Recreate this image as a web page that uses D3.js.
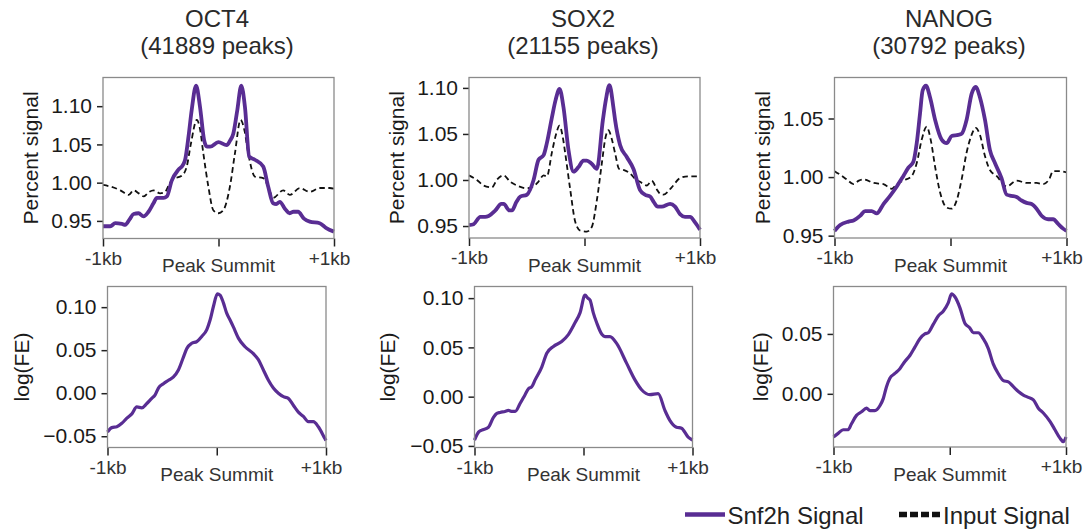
<!DOCTYPE html>
<html>
<head>
<meta charset="utf-8">
<script src="https://cdn.jsdelivr.net/npm/d3@7"></script>
<style>
  html, body { margin: 0; padding: 0; background: #fff; }
  svg { display: block; font-family: 'Liberation Sans', Arial, sans-serif; }
</style>
</head>
<body>
<div id="chart"></div>
<script>
// ---------------------------------------------------------------------------
// Snf2h signal around TF peak summits (top: percent signal, bottom: log FE)
// ---------------------------------------------------------------------------

const factors = ['OCT4', 'SOX2', 'NANOG'];
const peakCounts = [41889, 21155, 30792];

const xTickValues = [-1000, 0, 1000];
const xTickLabels = ['-1kb', '', '+1kb'];

const yTicksTop = [[0.95, 1.00, 1.05, 1.10], [0.95, 1.00, 1.05, 1.10], [0.95, 1.00, 1.05]];
const yTicksBottom = [[-0.05, 0.00, 0.05, 0.10], [-0.05, 0.00, 0.05, 0.10], [0.00, 0.05]];

// [bp from summit, percent signal]
const snf2hOct4 = [
  [-1000, 0.943], [-960, 0.943], [-937, 0.943], [-894, 0.947], [-836, 0.946], [-807, 0.945],
  [-770, 0.952], [-735, 0.959], [-692, 0.960], [-649, 0.956], [-606, 0.962], [-563, 0.973],
  [-534, 0.980], [-476, 0.980], [-447, 0.982], [-404, 1.003], [-347, 1.017], [-309, 1.023],
  [-289, 1.030], [-260, 1.060], [-232, 1.095], [-194, 1.127], [-160, 1.099], [-125, 1.056],
  [-100, 1.047], [-73, 1.047], [-1, 1.053], [71, 1.049], [100, 1.055], [128, 1.064],
  [163, 1.095], [197, 1.127], [229, 1.099], [266, 1.034], [315, 1.030], [387, 1.021],
  [430, 0.995], [473, 0.973], [500, 0.972], [531, 0.975], [575, 0.966], [617, 0.960],
  [650, 0.962], [689, 0.962], [740, 0.953], [790, 0.949], [876, 0.947], [930, 0.941],
  [1000, 0.936]
];
const inputOct4 = [
  [-1000, 0.997], [-937, 0.995], [-850, 0.990], [-778, 0.984], [-735, 0.990], [-690, 0.986],
  [-649, 0.982], [-600, 0.988], [-563, 0.990], [-505, 0.986], [-462, 0.988], [-420, 1.000],
  [-390, 1.005], [-318, 1.009], [-275, 1.021], [-240, 1.050], [-188, 1.082], [-160, 1.070],
  [-131, 1.038], [-88, 0.995], [-45, 0.964], [-1, 0.960], [42, 0.964], [99, 0.995],
  [142, 1.038], [191, 1.082], [225, 1.068], [258, 1.038], [315, 1.008], [387, 1.006],
  [430, 0.995], [473, 0.980], [560, 0.990], [617, 0.984], [704, 0.993], [790, 0.988],
  [876, 0.993], [963, 0.993], [1000, 0.992]
];
const snf2hSox2 = [
  [-1000, 0.951], [-960, 0.952], [-902, 0.960], [-860, 0.960], [-830, 0.961], [-772, 0.967],
  [-720, 0.974], [-700, 0.974], [-650, 0.967], [-628, 0.967], [-590, 0.976], [-556, 0.982],
  [-499, 0.984], [-441, 1.000], [-398, 1.022], [-354, 1.027], [-326, 1.040], [-282, 1.068],
  [-250, 1.087], [-216, 1.099], [-182, 1.079], [-138, 1.032], [-95, 1.009], [-52, 1.014],
  [-10, 1.021], [20, 1.021], [60, 1.018], [107, 1.012], [159, 1.065], [185, 1.087],
  [216, 1.103], [250, 1.079], [265, 1.065], [308, 1.038], [366, 1.025], [424, 1.012],
  [481, 0.989], [524, 0.984], [568, 0.982], [600, 0.976], [634, 0.971], [669, 0.971],
  [741, 0.974], [784, 0.971], [827, 0.963], [870, 0.960], [914, 0.960], [957, 0.954],
  [1000, 0.946]
];
const inputSox2 = [
  [-1000, 1.005], [-931, 1.000], [-873, 0.994], [-801, 0.992], [-760, 1.000], [-700, 1.005],
  [-643, 0.998], [-585, 0.994], [-499, 0.991], [-441, 0.993], [-400, 0.998], [-354, 1.005],
  [-326, 1.004], [-282, 1.030], [-250, 1.048], [-216, 1.059], [-190, 1.048], [-167, 1.029],
  [-124, 0.990], [-81, 0.955], [-37, 0.945], [20, 0.944], [63, 0.949], [107, 0.978],
  [150, 1.018], [180, 1.045], [207, 1.054], [235, 1.045], [265, 1.029], [300, 1.012],
  [337, 1.011], [395, 1.007], [440, 1.001], [481, 0.998], [539, 0.994], [582, 0.999],
  [630, 0.989], [654, 0.985], [683, 0.984], [755, 0.992], [827, 1.002], [900, 1.004],
  [942, 1.004], [1000, 1.004]
];
const snf2hNanog = [
  [-1000, 0.954], [-951, 0.959], [-879, 0.962], [-836, 0.963], [-779, 0.967], [-736, 0.971],
  [-679, 0.971], [-636, 0.969], [-578, 0.977], [-521, 0.984], [-463, 0.992], [-406, 1.001],
  [-363, 1.008], [-320, 1.013], [-291, 1.029], [-263, 1.054], [-240, 1.074], [-211, 1.078],
  [-176, 1.068], [-133, 1.049], [-76, 1.032], [-33, 1.029], [10, 1.035], [67, 1.036],
  [96, 1.037], [139, 1.049], [182, 1.071], [217, 1.077], [254, 1.068], [297, 1.049],
  [340, 1.023], [383, 1.012], [440, 0.999], [484, 0.985], [527, 0.984], [570, 0.983],
  [613, 0.980], [656, 0.978], [699, 0.977], [742, 0.973], [785, 0.967], [842, 0.964],
  [885, 0.964], [928, 0.960], [971, 0.956], [1000, 0.954]
];
const inputNanog = [
  [-1000, 1.005], [-951, 1.002], [-894, 0.998], [-836, 0.994], [-790, 0.997], [-750, 0.998],
  [-664, 0.995], [-578, 0.994], [-506, 0.990], [-463, 0.994], [-406, 0.997], [-334, 1.001],
  [-291, 1.012], [-248, 1.032], [-205, 1.043], [-171, 1.032], [-133, 1.009], [-90, 0.987],
  [-33, 0.974], [10, 0.973], [53, 0.980], [96, 0.998], [139, 1.021], [182, 1.036],
  [217, 1.042], [254, 1.036], [297, 1.018], [340, 1.006], [397, 1.001], [484, 0.992],
  [570, 0.997], [656, 0.995], [742, 0.995], [799, 0.994], [850, 0.998], [885, 1.005],
  [943, 1.005], [1000, 1.004]
];

// [bp from summit, log fold enrichment]
const logfeOct4 = [
  [-1000, -0.045], [-960, -0.040], [-915, -0.039], [-869, -0.035], [-823, -0.029], [-777, -0.024],
  [-732, -0.016], [-686, -0.017], [-640, -0.012], [-595, -0.006], [-564, -0.002], [-534, 0.006],
  [-488, 0.011], [-442, 0.015], [-396, 0.019], [-351, 0.027], [-305, 0.042], [-274, 0.052],
  [-229, 0.058], [-183, 0.060], [-137, 0.066], [-91, 0.074], [-61, 0.085], [-30, 0.101],
  [6, 0.1155], [30, 0.114], [61, 0.105], [91, 0.093], [122, 0.085], [152, 0.077],
  [198, 0.064], [259, 0.054], [335, 0.046], [381, 0.039], [427, 0.027], [473, 0.015],
  [518, 0.006], [564, 0.000], [610, -0.004], [655, -0.006], [701, -0.014], [747, -0.022],
  [793, -0.027], [838, -0.033], [884, -0.033], [930, -0.039], [991, -0.053], [1000, -0.055]
];
const logfeSox2 = [
  [-1000, -0.044], [-963, -0.036], [-933, -0.034], [-872, -0.031], [-826, -0.021], [-795, -0.017],
  [-765, -0.016], [-720, -0.015], [-689, -0.014], [-655, -0.015], [-627, -0.015], [-582, -0.007],
  [-536, 0.002], [-505, 0.008], [-475, 0.010], [-444, 0.017], [-383, 0.030], [-337, 0.044],
  [-276, 0.051], [-200, 0.056], [-139, 0.063], [-78, 0.075], [-32, 0.085], [14, 0.103],
  [40, 0.100], [60, 0.098], [90, 0.085], [121, 0.075], [170, 0.063], [197, 0.061],
  [243, 0.061], [304, 0.054], [395, 0.034], [472, 0.017], [533, 0.007], [609, 0.002],
  [685, 0.003], [747, -0.014], [792, -0.024], [853, -0.031], [899, -0.032], [960, -0.041],
  [1000, -0.044]
];
const logfeNanog = [
  [-1000, -0.036], [-960, -0.033], [-917, -0.030], [-874, -0.030], [-845, -0.025], [-802, -0.018],
  [-759, -0.015], [-716, -0.012], [-687, -0.014], [-644, -0.014], [-601, -0.010], [-572, -0.004],
  [-544, 0.006], [-515, 0.013], [-472, 0.017], [-429, 0.021], [-386, 0.027], [-343, 0.032],
  [-300, 0.039], [-257, 0.046], [-214, 0.050], [-185, 0.051], [-142, 0.058], [-99, 0.065],
  [-56, 0.069], [-13, 0.076], [16, 0.0835], [44, 0.081], [87, 0.072], [130, 0.059],
  [173, 0.055], [202, 0.051], [245, 0.051], [288, 0.046], [331, 0.038], [374, 0.025],
  [417, 0.017], [461, 0.011], [504, 0.010], [547, 0.006], [590, 0.002], [633, -0.001],
  [676, -0.003], [719, -0.005], [762, -0.012], [805, -0.016], [862, -0.023], [905, -0.030],
  [948, -0.037], [977, -0.040], [1000, -0.036]
];

const snf2hSeries = [snf2hOct4, snf2hSox2, snf2hNanog];
const inputSeries = [inputOct4, inputSox2, inputNanog];
const logfeSeries = [logfeOct4, logfeSox2, logfeNanog];

// ---------------------------------------------------------------------------
const W = 1088, H = 531;
const PURPLE = '#592d93';
const FONT = "'Liberation Sans', Arial, sans-serif";

// pixel boxes of each axes frame
const topBoxes = [
  { x0: 103, x1: 334, y0: 77.5, y1: 238.5, dom: [0.927, 1.1375], ylab: 37.5 },
  { x0: 469, x1: 700, y0: 77.5, y1: 238, dom: [0.937, 1.1113], ylab: 403.5 },
  { x0: 834.5, x1: 1066.5, y0: 77.5, y1: 238, dom: [0.948, 1.085], ylab: 770 }
];
const bottomBoxes = [
  { x0: 107.5, x1: 326, y0: 286.5, y1: 447.5, dom: [-0.0631, 0.124], ylab: 28.5 },
  { x0: 474.5, x1: 692.5, y0: 286.5, y1: 447.5, dom: [-0.0516, 0.1118], ylab: 394.5 },
  { x0: 833.5, x1: 1066, y0: 286.5, y1: 447, dom: [-0.0444, 0.0896], ylab: 767.5 }
];

const svg = d3.select('#chart').append('svg')
  .attr('width', W).attr('height', H)
  .attr('viewBox', `0 0 ${W} ${H}`);

const fmtTick = v => (v < 0 ? '\u2212' : '') + Math.abs(v).toFixed(2);

function drawPanel(box, yTicks, yLabel, series, lineWidth) {
  const x = d3.scaleLinear().domain([-1000, 1000]).range([box.x0, box.x1]);
  const y = d3.scaleLinear().domain(box.dom).range([box.y1, box.y0]);

  // x axis
  const xa = svg.append('g').attr('transform', `translate(0,${box.y1})`)
    .call(d3.axisBottom(x).tickValues(xTickValues).tickSize(8).tickPadding(5)
      .tickFormat((d, i) => xTickLabels[i]));
  xa.select('.domain').remove();
  xa.selectAll('line').attr('stroke', '#222').attr('stroke-width', 1.5);
  xa.selectAll('text').attr('font-family', FONT).attr('font-size', 19).attr('fill', '#333')
    .attr('dx', d => d > 0 ? -5 : 0);

  // y axis
  const ya = svg.append('g').attr('transform', `translate(${box.x0},0)`)
    .call(d3.axisLeft(y).tickValues(yTicks).tickSize(6).tickPadding(5).tickFormat(fmtTick));
  ya.select('.domain').remove();
  ya.selectAll('line').attr('stroke', '#222').attr('stroke-width', 1.5);
  ya.selectAll('text').attr('font-family', FONT).attr('font-size', 21).attr('fill', '#1a1a1a');

  // axis labels
  svg.append('text')
    .attr('x', (box.x0 + box.x1) / 2).attr('y', box.y1 + 33.5)
    .attr('text-anchor', 'middle').attr('font-size', 19).attr('fill', '#333')
    .text('Peak Summit');
  svg.append('text')
    .attr('transform', `translate(${box.ylab},${(box.y0 + box.y1) / 2}) rotate(-90)`)
    .attr('text-anchor', 'middle').attr('font-size', 21).attr('fill', '#1a1a1a')
    .text(yLabel);

  // series
  const line = d3.line()
    .x(d => x(d[0]))
    .y(d => y(d[1]))
    .curve(d3.curveMonotoneX);

  series.forEach(s => {
    svg.append('path').datum(s.data)
      .attr('d', line)
      .attr('fill', 'none')
      .attr('stroke', s.color)
      .attr('stroke-width', s.width || lineWidth)
      .attr('stroke-dasharray', s.dash || null)
      .attr('stroke-linejoin', 'round');
  });

  // frame
  svg.append('rect')
    .attr('x', box.x0).attr('y', box.y0)
    .attr('width', box.x1 - box.x0).attr('height', box.y1 - box.y0)
    .attr('fill', 'none').attr('stroke', '#8a8a8a').attr('stroke-width', 1.3);
}

factors.forEach((f, i) => {
  const tb = topBoxes[i];
  const cx = (tb.x0 + tb.x1) / 2 - 1.5;
  const title = svg.append('text')
    .attr('text-anchor', 'middle').attr('font-size', 24).attr('fill', '#2a2a2a');
  title.append('tspan').attr('x', cx).attr('y', 27).text(f);
  title.append('tspan').attr('x', cx).attr('y', 54).text(`(${peakCounts[i]} peaks)`);

  drawPanel(tb, yTicksTop[i], 'Percent signal', [
    { data: inputSeries[i], color: '#111', width: 1.8, dash: '5.5,3.5' },
    { data: snf2hSeries[i], color: PURPLE }
  ], 3.8);

  drawPanel(bottomBoxes[i], yTicksBottom[i], 'log(FE)', [
    { data: logfeSeries[i], color: PURPLE }
  ], 3.2);
});

// legend
const legend = svg.append('g');
legend.append('line')
  .attr('x1', 685).attr('x2', 725).attr('y1', 514.5).attr('y2', 514.5)
  .attr('stroke', PURPLE).attr('stroke-width', 4.5);
legend.append('text')
  .attr('x', 727.5).attr('y', 523.5)
  .attr('font-size', 24).attr('fill', '#222')
  .text('Snf2h Signal');
legend.append('line')
  .attr('x1', 899).attr('x2', 941).attr('y1', 514.5).attr('y2', 514.5)
  .attr('stroke', '#111').attr('stroke-width', 5.5).attr('stroke-dasharray', '8,3');
legend.append('text')
  .attr('x', 943).attr('y', 523.5)
  .attr('font-size', 24).attr('fill', '#222')
  .text('Input Signal');
</script>
</body>
</html>
